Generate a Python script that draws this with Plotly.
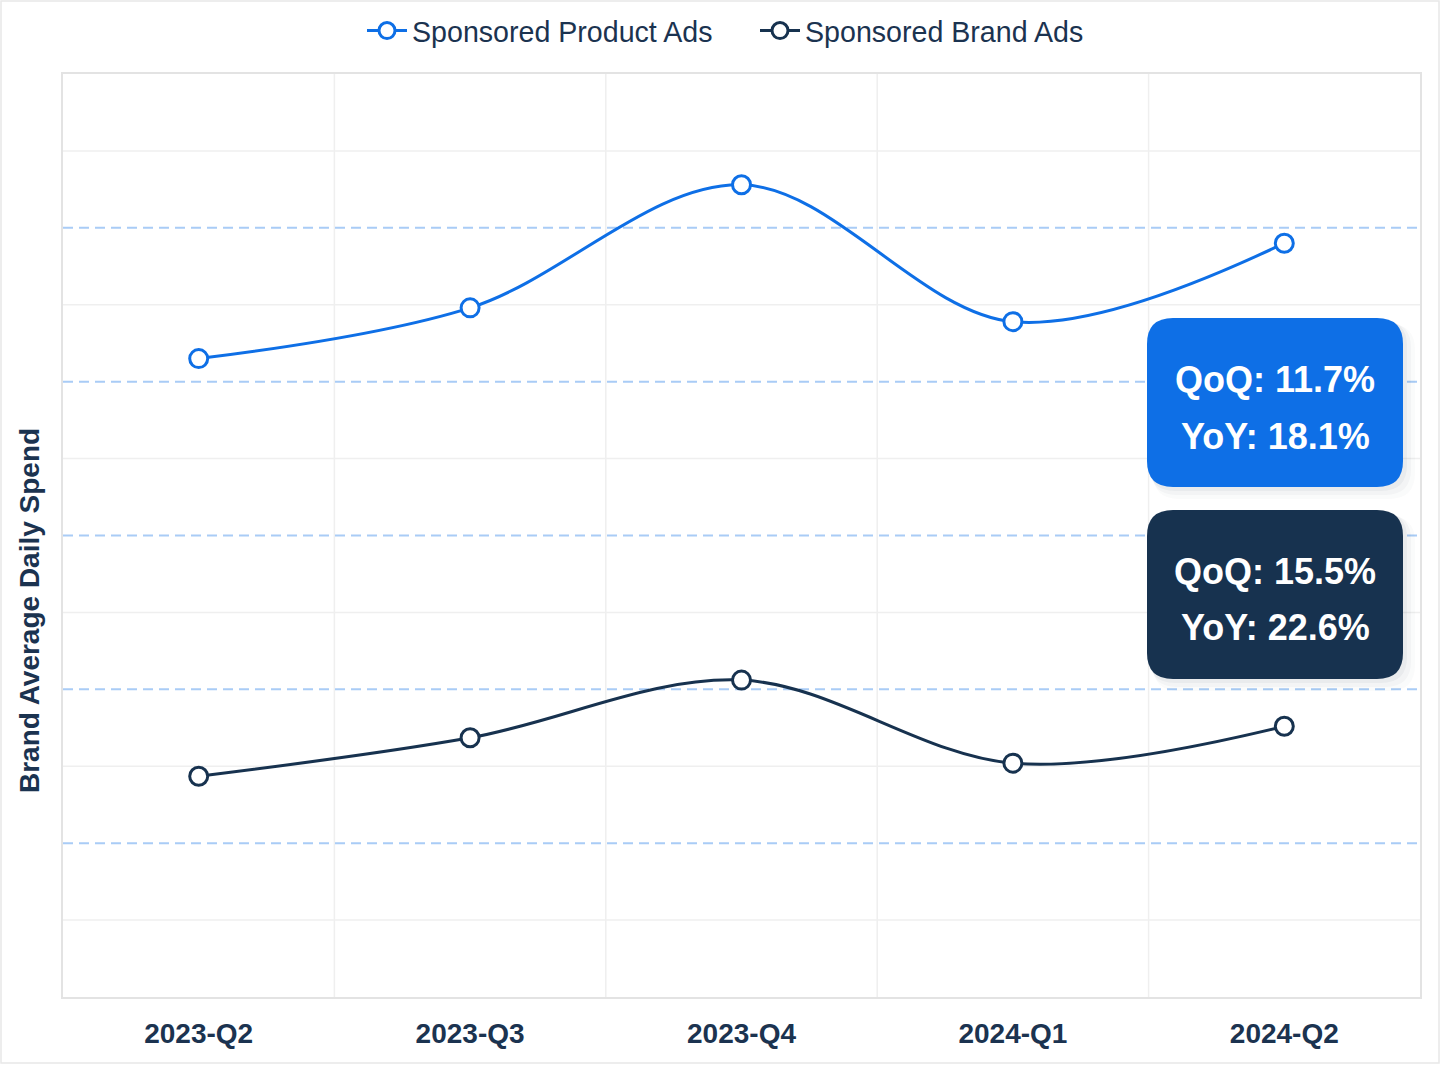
import plotly.graph_objects as go

quarters = ["2023-Q2", "2023-Q3", "2023-Q4", "2024-Q1", "2024-Q2"]
sp_values = [83.0, 89.6, 105.6, 87.8, 98.0]
sb_values = [28.7, 33.7, 41.2, 30.4, 35.2]
sp_label = ["QoQ: 11.7%", "YoY: 18.1%"]
sb_label = ["QoQ: 15.5%", "YoY: 22.6%"]
y_solid = [10, 30, 50, 70, 90, 110]
y_dashed = [20, 40, 60, 80, 100]

BLUE = "#0e6fe6"
NAVY = "#17324f"
TEXT = "#1b3350"
FONT = "Liberation Sans"

W, H = 1440, 1066
L, R, T, B = 63, 20, 74, 69
PW, PH = W - L - R, H - T - B

def px(x):
    return (x - L) / PW

def py(y):
    return (H - B - y) / PH

def rrect(x0, y0, x1, y1, r):
    X0, X1 = px(x0), px(x1)
    Y0, Y1 = py(y0), py(y1)  # Y0 top (larger)
    rx, ry = r / PW, r / PH
    return (f"M {X0+rx},{Y0} L {X1-rx},{Y0} Q {X1},{Y0} {X1},{Y0-ry} "
            f"L {X1},{Y1+ry} Q {X1},{Y1} {X1-rx},{Y1} L {X0+rx},{Y1} "
            f"Q {X0},{Y1} {X0},{Y1+ry} L {X0},{Y0-ry} Q {X0},{Y0} {X0+rx},{Y0} Z")

fig = go.Figure()
for name, vals, col in [("Sponsored Product Ads", sp_values, BLUE),
                        ("Sponsored Brand Ads", sb_values, NAVY)]:
    fig.add_trace(go.Scatter(
        x=quarters, y=vals, name=name, mode="lines+markers",
        line=dict(color=col, width=3, shape="spline", smoothing=1),
        marker=dict(size=18, color="white", line=dict(color=col, width=3)),
    ))

shapes = []
for xb in [0.5, 1.5, 2.5, 3.5]:
    shapes.append(dict(type="line", xref="x", yref="paper", x0=xb, x1=xb, y0=0, y1=1,
                       line=dict(color="#efefef", width=1.5), layer="below"))
for yv in y_solid:
    shapes.append(dict(type="line", xref="paper", yref="y", x0=0, x1=1, y0=yv, y1=yv,
                       line=dict(color="#efefef", width=1.5), layer="below"))
for yv in y_dashed:
    shapes.append(dict(type="line", xref="paper", yref="y", x0=0, x1=1, y0=yv, y1=yv,
                       line=dict(color="#a9ccf6", width=2, dash="10px,6px"), layer="below"))

# outer frame
shapes.append(dict(type="rect", xref="paper", yref="paper", x0=px(1), x1=px(1439),
                   y0=py(1063), y1=py(1), line=dict(color="#e8e8e8", width=1.5),
                   fillcolor="rgba(0,0,0,0)", layer="below"))

boxes = [(318, 487, BLUE, sp_label), (510, 679, NAVY, sb_label)]
annotations = []
for top, bot, col, lab in boxes:
    for k, op in [(12, 0.02), (8, 0.03), (4, 0.045)]:
        shapes.append(dict(type="path", xref="paper", yref="paper",
                           path=rrect(1147 + k * 0.5, top + k * 0.5, 1403 + k, bot + k, 26),
                           fillcolor=f"rgba(20,40,70,{op})", line=dict(width=0), layer="above"))
    shapes.append(dict(type="path", xref="paper", yref="paper",
                       path=rrect(1147, top, 1403, bot, 26), fillcolor=col,
                       line=dict(width=0), layer="above"))
    cx = px(1275)
    for i, t in enumerate(lab):
        yc = top + 61 + i * 57
        annotations.append(dict(text=f"<b>{t}</b>", x=cx, y=py(yc), xref="paper", yref="paper",
                                showarrow=False, xanchor="center", yanchor="middle",
                                font=dict(family=FONT, size=36, color="white")))

annotations.append(dict(text="<b>Brand Average Daily Spend</b>", x=px(30), y=py(611),
                        xref="paper", yref="paper", showarrow=False, textangle=-90,
                        xanchor="center", yanchor="middle",
                        font=dict(family=FONT, size=28, color=TEXT)))

fig.update_layout(
    width=W, height=H,
    margin=dict(l=L, r=R, t=T, b=B, autoexpand=False),
    paper_bgcolor="white", plot_bgcolor="white",
    font=dict(family=FONT, color=TEXT),
    showlegend=True,
    legend=dict(orientation="h", x=px(362), xanchor="left", xref="paper",
                y=py(31), yanchor="middle", yref="paper", font=dict(size=28.6, color=TEXT),
                itemwidth=40, entrywidth=338, bgcolor="rgba(0,0,0,0)"),
    shapes=shapes, annotations=annotations,
)
fig.update_xaxes(range=[-0.5, 4.5], showgrid=False, showline=True, mirror=True,
                 linecolor="#e3e3e3", linewidth=2, ticks="", ticklabelstandoff=10,
                 tickangle=0, automargin=False,
                 tickfont=dict(family=FONT, size=28, color=TEXT), tickprefix="<b>", ticksuffix="</b>",
                 zeroline=False)
fig.update_yaxes(range=[0, 120], showgrid=False,
                 showticklabels=False, showline=True, mirror=True, linecolor="#e3e3e3",
                 linewidth=2, zeroline=False, ticks="", automargin=False)

fig.write_html("out.html", config={"displayModeBar": False},
               post_script="document.body.style.margin='0';document.body.style.overflow='hidden';")
